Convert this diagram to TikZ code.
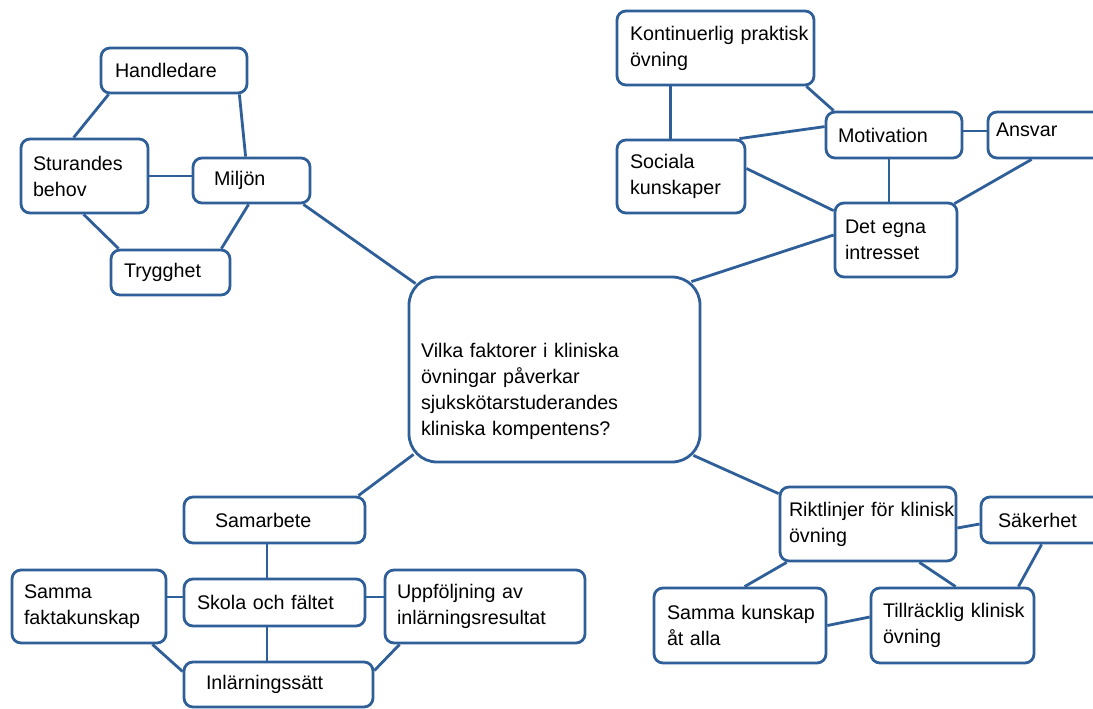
\documentclass[tikz,border=0pt]{standalone}
\usepackage{fontspec}
\setmainfont{Liberation Sans}
\usetikzlibrary{calc,backgrounds}
\definecolor{bl}{RGB}{47,95,152}
\tikzset{
  box/.style={draw=bl, line width=2.8pt, rounded corners=9pt, fill=white, align=left,
    inner ysep=0pt, font=\fontsize{19.7}{26}\selectfont, text=black},
  con/.style={draw=bl, line width=2.8pt}
}
\begin{document}
\begin{tikzpicture}[x=1pt,y=-1pt]
\useasboundingbox (0,0) rectangle (1093,709);
% left cluster
\node[box, minimum width=146pt, minimum height=45pt, text width=118pt, inner xsep=14pt] (hand) at (174,70.5) {Handledare};
\node[box, minimum width=127pt, minimum height=74pt, text width=103pt, inner xsep=12pt] (stu) at (84.5,176) {Sturandes\\behov};
\node[box, minimum width=117pt, minimum height=45pt, text width=75pt, inner xsep=21pt] (milj) at (251.5,180.5) {Miljön};
\node[box, minimum width=119pt, minimum height=45pt, text width=93pt, inner xsep=13pt] (tryg) at (170.5,272.5) {Trygghet};
% top right cluster
\node[box, minimum width=197pt, minimum height=74pt, text width=171pt, inner xsep=13pt] (kont) at (715.5,48) {\mbox{Kontinuerlig praktisk}\\övning};
\node[box, minimum width=128pt, minimum height=73pt, text width=102pt, inner xsep=13pt] (soc) at (681,176.5) {Sociala\\kunskaper};
\node[box, minimum width=136pt, minimum height=46pt, text width=112pt, inner xsep=12pt] (mot) at (894,135) {Motivation};
\node[box, minimum width=122pt, minimum height=46pt, text width=106pt, inner xsep=8pt] (ansv) at (1049,135) {\raisebox{5pt}[\height][\depth]{Ansvar}};
\node[box, minimum width=122pt, minimum height=74pt, text width=102pt, inner xsep=10pt] (det) at (896,240) {Det egna\\intresset};
% center
\node[box, rounded corners=28pt, minimum width=291pt, minimum height=185pt, text width=267pt, inner xsep=12pt] (c) at (554.5,369.5)
  {\rule{0pt}{58pt}Vilka faktorer i kliniska\\övningar påverkar\\sjukskötarstuderandes\\kliniska kompentens?};
% bottom left cluster
\node[box, minimum width=181pt, minimum height=46pt, text width=119pt, inner xsep=31pt] (sam) at (274.5,520) {Samarbete};
\node[box, minimum width=154pt, minimum height=73pt, text width=130pt, inner xsep=12pt] (sfk) at (89,606.5) {Samma\\faktakunskap};
\node[box, minimum width=181pt, minimum height=47pt, text width=155pt, inner xsep=13pt] (skola) at (274.5,602.5) {\mbox{Skola och fältet}};
\node[box, minimum width=200pt, minimum height=73pt, text width=176pt, inner xsep=12pt] (upp) at (485,606.5) {\mbox{Uppföljning av}\\inlärningsresultat};
\node[box, minimum width=189pt, minimum height=45pt, text width=145pt, inner xsep=22pt] (inl) at (278.5,684.5) {Inlärningssätt};
% bottom right cluster
\node[box, minimum width=176pt, minimum height=74pt, text width=158pt, inner xsep=9pt] (rikt) at (868,524) {\mbox{Riktlinjer för klinisk}\\övning};
\node[box, minimum width=129pt, minimum height=46pt, text width=95pt, inner xsep=17pt] (sak) at (1045.5,520) {Säkerhet};
\node[box, minimum width=172pt, minimum height=75pt, text width=146pt, inner xsep=13pt] (ska) at (740,625.5) {\mbox{Samma kunskap}\\\mbox{åt alla}};
\node[box, minimum width=163pt, minimum height=75pt, text width=139pt, inner xsep=12pt] (till) at (952.5,625.5) {\mbox{Tillräcklig klinisk}\\övning};
\begin{pgfonlayer}{background}
\fill[white] (0,0) rectangle (1093,709);
% left
\draw[con] ($(hand.south west)+(9,0)$) -- ($(stu.north west)+(54,0)$);
\draw[con] ($(hand.south east)+(-9,0)$) -- ($(milj.north west)+(54,0)$);
\draw[con] (stu.east) -- (milj.west |- stu.east);
\draw[con] ($(stu.south west)+(64,0)$) -- ($(tryg.north west)+(9,0)$);
\draw[con] ($(milj.south west)+(57,0)$) -- ($(tryg.north east)+(-10,0)$);
\draw[con] ($(milj.south east)+(-8,0)$) -- ($(c.north west)+(8,8)$);
% top right
\draw[con] ($(kont.south west)+(55,0)$) -- ($(soc.north west)+(55,0)$);
\draw[con] ($(kont.south east)+(-9,0)$) -- ($(mot.north west)+(9,0)$);
\draw[con] ($(soc.north east)+(-7,0)$) -- ($(mot.north west)+(0,16)$);
\draw[con] ($(mot.east)+(0,-4)$) -- ($(ansv.west)+(0,-4)$);
\draw[con] ($(mot.south)+(-5,0)$) -- ($(det.north)+(-7,0)$);
\draw[con] ($(soc.east)+(0,-8)$) -- ($(det.north west)+(0,9)$);
\draw[con] ($(ansv.south west)+(45,0)$) -- ($(det.north east)+(-4,2)$);
\draw[con] ($(det.west)+(0,-5)$) -- ($(c.north east)+(-10,6)$);
% bottom left
\draw[con] ($(c.south west)+(6,-9)$) -- ($(sam.north east)+(-8,0)$);
\draw[con] ($(sam.south)+(-7.5,0)$) -- ($(skola.north)+(-7.5,0)$);
\draw[con] ($(sfk.east)+(0,-9.5)$) -- ($(skola.west)+(0,-5.5)$);
\draw[con] ($(skola.east)+(0,-5.5)$) -- ($(upp.west)+(0,-9.5)$);
\draw[con] ($(skola.south)+(-7.5,0)$) -- ($(inl.north)+(-11.5,0)$);
\draw[con] ($(sfk.south east)+(-15,0)$) -- ($(inl.west)+(0,-13)$);
\draw[con] ($(upp.south west)+(16,0)$) -- ($(inl.east)+(0,-14)$);
% bottom right
\draw[con] ($(c.south east)+(-8,-8)$) -- ($(rikt.north west)+(0,8)$);
\draw[con] ($(rikt.east)+(0,4)$) -- ($(sak.west)+(0,4)$);
\draw[con] ($(rikt.south west)+(8,0)$) -- ($(ska.north west)+(92,0)$);
\draw[con] ($(rikt.south east)+(-38,0)$) -- ($(till.north west)+(86,0)$);
\draw[con] ($(sak.south west)+(62,0)$) -- ($(till.north east)+(-17,0)$);
\draw[con] (ska.east) -- ($(till.west)+(0,-8.5)$);
\end{pgfonlayer}
\end{tikzpicture}
\end{document}
